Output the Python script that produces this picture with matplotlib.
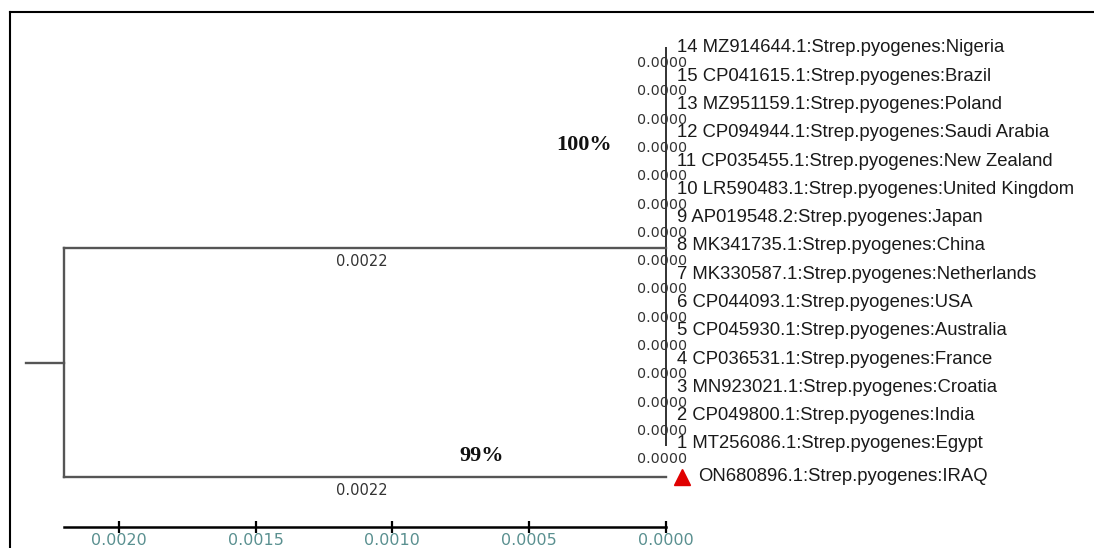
import matplotlib.pyplot as plt
from matplotlib.lines import Line2D
import numpy as np

# tree data (MEGA-style NJ tree, distances)
leaf_ids = [14, 15, 13, 12, 11, 10, 9, 8, 7, 6, 5, 4, 3, 2, 1]
accessions = ["MZ914644.1", "CP041615.1", "MZ951159.1", "CP094944.1",
              "CP035455.1", "LR590483.1", "AP019548.2", "MK341735.1",
              "MK330587.1", "CP044093.1", "CP045930.1", "CP036531.1",
              "MN923021.1", "CP049800.1", "MT256086.1"]
countries = ["Nigeria", "Brazil", "Poland", "Saudi Arabia", "New Zealand",
             "United Kingdom", "Japan", "China", "Netherlands", "USA",
             "Australia", "France", "Croatia", "India", "Egypt"]
leaf_lengths = [0.0000, 0.0000, 0.0000, 0.0000, 0.0000, 0.0000, 0.0000, 0.0000,
                0.0000, 0.0000, 0.0000, 0.0000, 0.0000, 0.0000, 0.0000]
species = "Strep.pyogenes"
query_label = "ON680896.1:Strep.pyogenes:IRAQ"
clade_branch = 0.0022
query_branch = 0.0022
clade_support = "100%"
query_support = "99%"
scale_ticks = [0.0020, 0.0015, 0.0010, 0.0005, 0.0000]

W, H = 1094, 548
fig = plt.figure(figsize=(W / 100, H / 100), dpi=100)
ax = fig.add_axes([0, 0, 1, 1])

# pixel mapping of the original layout
root_x = clade_branch
px_x = 602 / root_x
px_y = 396 / (len(leaf_ids) - 1)
ax.set_xlim(root_x + 64 / px_x, -(W - 666) / px_x)
ax.set_ylim((len(leaf_ids) - 1) + (H - 446) / px_y, -50 / px_y)

ys = np.arange(len(leaf_ids))
query_y = ys[-1] + 31 / px_y
clade_y = (ys[0] + ys[-1]) / 2
root_y = (clade_y + query_y) / 2
stub = 38 / px_x

branch_col = "#555555"
# clade: all leaves hang off one vertical at distance 0
ax.plot([0, 0], [ys[0] - 0.1, ys[-1]], color="#222222", lw=1.3, solid_capstyle="butt")
for y, d in zip(ys, leaf_lengths):
    ax.plot([d, 0], [y, y], color="#222222", lw=1.3)
ax.plot([root_x, root_x - clade_branch], [clade_y, clade_y], color=branch_col, lw=1.7)
ax.plot([root_x, root_x - query_branch], [query_y, query_y], color=branch_col, lw=1.7)
ax.plot([root_x, root_x], [clade_y, query_y], color=branch_col, lw=1.7)
ax.plot([root_x + stub, root_x], [root_y, root_y], color=branch_col, lw=1.7)

# leaf labels + zero branch lengths
for y, n, acc, c, d in zip(ys, leaf_ids, accessions, countries, leaf_lengths):
    ax.annotate(f"{n} {acc}:{species}:{c}", (0, y), xytext=(8, 1.5),
                textcoords="offset points", ha="left", va="center",
                family="Liberation Sans", fontsize=13.3, color="#1a1a1a")
    ax.annotate(f"{d:.4f}", (0, y), xytext=(-2.5, -9.5),
                textcoords="offset points", ha="center", va="center",
                family="DejaVu Sans", fontsize=10.3, color="#333333")

# query sequence
ax.plot([-16 / px_x], [query_y], marker="^", ms=11, color="#e00000", mec="#e00000", ls="none")
ax.annotate(query_label, (0, query_y), xytext=(23, 0.5), textcoords="offset points",
            ha="left", va="center", family="Liberation Sans", fontsize=13.3, color="#1a1a1a")

# branch lengths
for y, b in [(clade_y, clade_branch), (query_y, query_branch)]:
    ax.annotate(f"{b:.4f}", (root_x - b / 2, y), xytext=(-2, -9.5),
                textcoords="offset points", ha="center", va="center",
                family="DejaVu Sans", fontsize=10.5, color="#333333")

# bootstrap values
ax.annotate(clade_support, (0, clade_y), xytext=(-59, 74), textcoords="offset points",
            ha="center", va="center", family="Liberation Serif", fontweight="bold",
            fontsize=16, color="#111111")
ax.annotate(query_support, (root_x - query_branch / 2, query_y), xytext=(84, 15),
            textcoords="offset points", ha="center", va="center",
            family="Liberation Serif", fontweight="bold", fontsize=16, color="#111111")

# scale bar as the bottom spine
for s in ["top", "right", "left"]:
    ax.spines[s].set_visible(False)
ax.spines["bottom"].set_position(("data", ys[-1] + (527 - 446) / px_y))
ax.spines["bottom"].set_bounds(root_x, 0)
ax.spines["bottom"].set_linewidth(1.8)
ax.set_xticks(scale_ticks)
ax.set_xticklabels([f"{t:.4f}" for t in scale_ticks],
                   family=["Liberation Sans Narrow", "DejaVu Sans"], fontsize=11.5)
ax.tick_params(axis="x", direction="inout", length=8, width=1.6, pad=0,
               labelcolor="#5a9090")
ax.set_yticks([])
ax.patch.set_visible(False)

# page frame (top and left edges)
fig.add_artist(Line2D([10 / W, 1], [1 - 12 / H, 1 - 12 / H], color="black", lw=1.5))
fig.add_artist(Line2D([10 / W, 10 / W], [0, 1 - 12 / H], color="black", lw=1.5))

fig.savefig("out.png", dpi=100, facecolor="white")
